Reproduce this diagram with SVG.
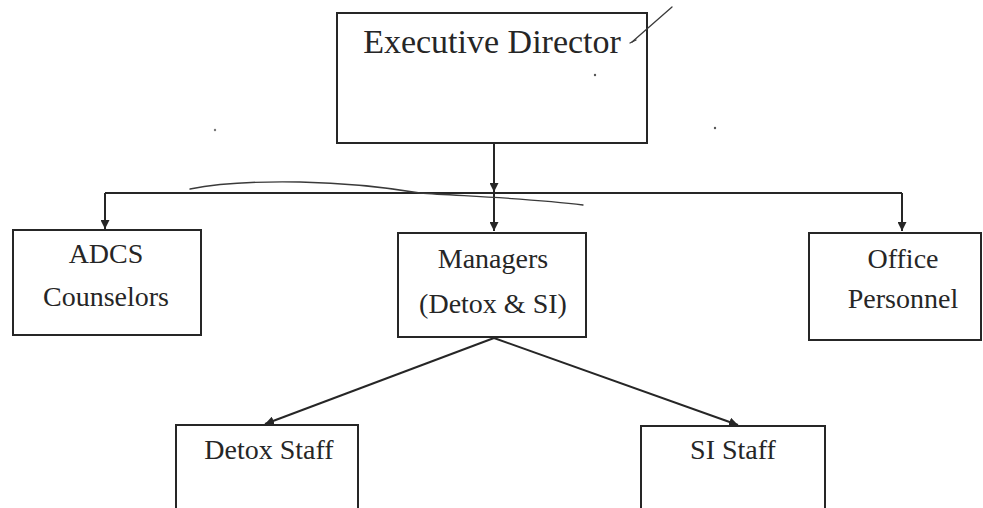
<svg xmlns="http://www.w3.org/2000/svg" width="983" height="508" viewBox="0 0 983 508">
<style>
.box{fill:#fff;stroke:#262626;stroke-width:2}
.lbl{font-family:"Liberation Serif","DejaVu Serif",serif;font-size:28px;fill:#262626;text-anchor:middle}
.title{font-size:34px}
.conn{fill:none;stroke:#262626;stroke-width:2}
.pen{fill:none;stroke:#3a3a3a;stroke-width:1.3;stroke-linecap:round}
</style>
<defs>
<marker id="arr" viewBox="0 0 10 10" refX="10" refY="5" markerWidth="4.5" markerHeight="4.5" orient="auto" markerUnits="strokeWidth">
<path d="M0,0 L10,5 L0,10 z" fill="#262626"/>
</marker>
</defs>
<rect width="983" height="508" fill="#fff"/>
<g id="connectors">
<line class="conn" x1="494" y1="144" x2="494" y2="192" marker-end="url(#arr)"/>
<line class="conn" x1="105" y1="193" x2="902" y2="193"/>
<line class="conn" x1="105" y1="193" x2="105" y2="229" marker-end="url(#arr)"/>
<line class="conn" x1="494" y1="193" x2="494" y2="231" marker-end="url(#arr)"/>
<line class="conn" x1="902" y1="193" x2="902" y2="231" marker-end="url(#arr)"/>
<line class="conn" x1="494" y1="338" x2="265" y2="424" marker-end="url(#arr)"/>
<line class="conn" x1="494" y1="338" x2="738" y2="425" marker-end="url(#arr)"/>
</g>
<g id="executive-director">
<rect class="box" x="337" y="13" width="310" height="130"/>
<text class="lbl title" x="492" y="53">Executive Director</text>
</g>
<g id="adcs-counselors">
<rect class="box" x="13" y="230" width="188" height="105"/>
<text class="lbl" x="106" y="263">ADCS</text>
<text class="lbl" x="106" y="306">Counselors</text>
</g>
<g id="managers">
<rect class="box" x="398" y="233" width="188" height="104"/>
<text class="lbl" x="493" y="268">Managers</text>
<text class="lbl" x="493" y="313">(Detox &amp; SI)</text>
</g>
<g id="office-personnel">
<rect class="box" x="809" y="233" width="172" height="107"/>
<text class="lbl" x="903" y="268">Office</text>
<text class="lbl" x="903" y="308">Personnel</text>
</g>
<g id="detox-staff">
<rect class="box" x="176" y="425" width="182" height="90"/>
<text class="lbl" x="269" y="459">Detox Staff</text>
</g>
<g id="si-staff">
<rect class="box" x="641" y="426" width="184" height="90"/>
<text class="lbl" x="733" y="459">SI Staff</text>
</g>
<g id="pen-marks">
<path class="pen" d="M632,42 L672,7"/>
<path class="pen" d="M630,43 L636,40"/>
<path class="pen" d="M190,189 C215,184 245,181 300,182 C350,183 390,188 420,193 C460,196 530,198 583,205"/>
<circle cx="595" cy="75" r="1.2" fill="#555"/>
<circle cx="715" cy="128" r="1.2" fill="#555"/>
<circle cx="215" cy="130" r="1.2" fill="#777"/>
</g>
</svg>
